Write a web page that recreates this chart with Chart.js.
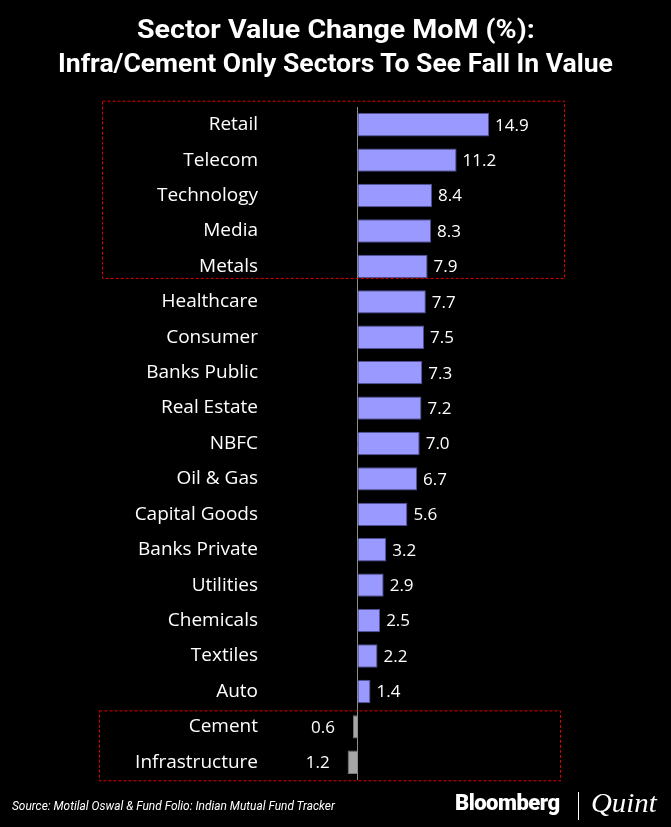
<!DOCTYPE html>
<html>
<head>
<meta charset="utf-8">
<script src="https://cdn.jsdelivr.net/npm/chart.js@4.4.1/dist/chart.umd.min.js"></script>
<style>
  html, body { margin: 0; padding: 0; background: #000; }
  body { width: 671px; height: 827px; position: relative; overflow: hidden; font-family: Roboto, sans-serif; color: #fff; }
  #chart-wrap { position: absolute; left: 0; top: 0; width: 671px; height: 827px; }
  .fit { position: absolute; white-space: nowrap; transform-origin: 0 50%; }
  .title { font-weight: bold; font-size: 26px; line-height: 30px; }
  .source { font-style: italic; font-size: 13px; line-height: 16px; }
  .bb { position: absolute; left: 455px; top: 790px; font-family: Roboto, sans-serif; font-weight: 900; font-size: 22px; letter-spacing: -0.5px; line-height: 26px; }
  .sep { position: absolute; left: 578px; top: 792px; width: 1px; height: 28px; background: #fff; }
  .quint { font-family: "Liberation Serif", "DejaVu Serif", serif; font-style: italic; font-size: 28px; line-height: 30px; }
</style>
</head>
<body>
<div id="chart-wrap"><canvas id="sectorChart" width="671" height="827"></canvas></div>
<div class="fit title" data-x="137" data-w="398" style="top: 14px;">Sector Value Change MoM (%):</div>
<div class="fit title" data-x="58" data-w="555" style="top: 48px;">Infra/Cement Only Sectors To See Fall In Value</div>
<div class="fit source" data-x="12" data-w="323" style="top: 798px;">Source: Motilal Oswal &amp; Fund Folio: Indian Mutual Fund Tracker</div>
<div class="bb">Bloomberg</div>
<div class="sep"></div>
<div class="fit quint" data-x="591" data-w="66" style="top: 788px;">Quint</div>
<script>
// --- Data ---
const sectors = ['Retail', 'Telecom', 'Technology', 'Media', 'Metals', 'Healthcare', 'Consumer',
    'Banks Public', 'Real Estate', 'NBFC', 'Oil & Gas', 'Capital Goods', 'Banks Private',
    'Utilities', 'Chemicals', 'Textiles', 'Auto', 'Cement', 'Infrastructure'];
const changePct = [14.9, 11.2, 8.4, 8.3, 7.9, 7.7, 7.5, 7.3, 7.2, 7.0, 6.7, 5.6, 3.2, 2.9, 2.5, 2.2, 1.4, -0.6, -1.2];
// highlighted groups: [first index, last index]
const boxGroups = [[0, 4], [17, 18]];

// squeeze the condensed-looking text lines to their widths
document.querySelectorAll('.fit').forEach(el => {
    const w = el.scrollWidth;
    el.style.left = el.dataset.x + 'px';
    el.style.transform = `scaleX(${parseFloat(el.dataset.w) / w})`;
});

const posFill = '#9999ff', posEdge = '#4f4f99';
const negFill = '#a6a6a6', negEdge = '#7a7a7a';

// zero line, value labels and dashed boxes
const extras = {
    id: 'extras',
    afterDatasetsDraw(chart) {
        const { ctx, chartArea, scales: { x, y } } = chart;
        const zero = x.getPixelForValue(0);
        ctx.save();
        ctx.strokeStyle = '#8c8c8c';
        ctx.lineWidth = 1;
        ctx.beginPath();
        ctx.moveTo(Math.round(zero) - 0.5, chartArea.top);
        ctx.lineTo(Math.round(zero) - 0.5, chartArea.bottom);
        ctx.stroke();

        ctx.fillStyle = '#ffffff';
        ctx.font = '17px "Open Sans", sans-serif';
        ctx.textBaseline = 'middle';
        chart.getDatasetMeta(0).data.forEach((bar, i) => {
            const v = changePct[i];
            const txt = Math.abs(v).toFixed(1);
            if (v >= 0) {
                ctx.textAlign = 'left';
                ctx.fillText(txt, bar.x + 6, bar.y + 1);
            } else {
                ctx.textAlign = 'right';
                ctx.fillText(txt, bar.x - 18, bar.y + 1);
            }
        });

        ctx.strokeStyle = '#e00000';
        ctx.setLineDash([3, 2]);
        const g1 = boxGroups[0], g2 = boxGroups[1];
        const r1t = y.getPixelForValue(g1[0]) - 23.5, r1b = y.getPixelForValue(g1[1]) + 12;
        ctx.strokeRect(102.5, r1t, 462, r1b - r1t);
        const r2t = y.getPixelForValue(g2[0]) - 16, r2b = y.getPixelForValue(g2[1]) + 18.5;
        ctx.strokeRect(99.5, r2t, 461, r2b - r2t);
        ctx.restore();
    }
};

new Chart(document.getElementById('sectorChart').getContext('2d'), {
    type: 'bar',
    data: {
        labels: sectors,
        datasets: [{
            data: changePct,
            backgroundColor: changePct.map(v => v >= 0 ? posFill : negFill),
            borderColor: changePct.map(v => v >= 0 ? posEdge : negEdge),
            borderWidth: 1,
            borderSkipped: 'start',
            barPercentage: 0.66,
            categoryPercentage: 1
        }]
    },
    options: {
        indexAxis: 'y',
        responsive: false,
        animation: false,
        layout: { padding: { top: 107, bottom: 47, left: 0, right: 0 } },
        plugins: { legend: { display: false }, tooltip: { enabled: false } },
        scales: {
            x: { display: false, min: -11.4, max: 35.6 },
            y: {
                afterFit: (axis) => { axis.width = 258; },
                grid: { display: false, drawTicks: false },
                border: { display: false },
                ticks: { color: '#ffffff', padding: 0, font: { family: "'Open Sans', sans-serif", size: 19 } }
            }
        }
    },
    plugins: [extras]
});
</script>
</body>
</html>
